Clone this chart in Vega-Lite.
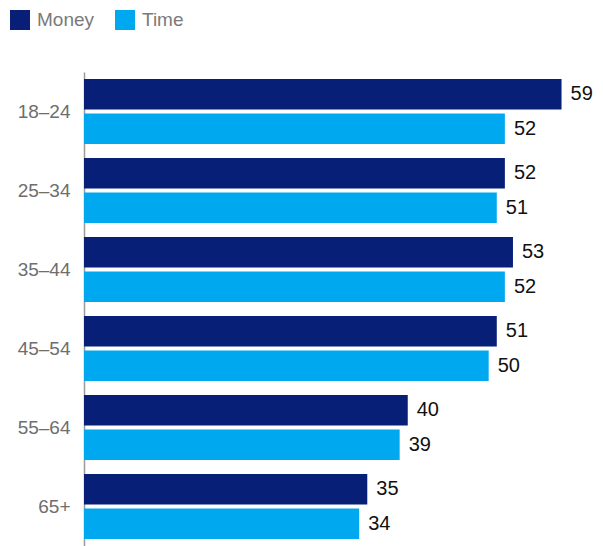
{
  "$schema": "https://vega.github.io/schema/vega-lite/v6.json",
  "autosize": "none",
  "width": 518,
  "height": 474,
  "padding": {"left": 84, "top": 72, "right": 1, "bottom": 0},
  "background": "white",
  "config": {"view": {"stroke": null}, "font": "Liberation Sans"},
  "data": {"values": [
    {"age": "18–24", "type": "Money", "value": 59},
    {"age": "18–24", "type": "Time", "value": 52},
    {"age": "25–34", "type": "Money", "value": 52},
    {"age": "25–34", "type": "Time", "value": 51},
    {"age": "35–44", "type": "Money", "value": 53},
    {"age": "35–44", "type": "Time", "value": 52},
    {"age": "45–54", "type": "Money", "value": 51},
    {"age": "45–54", "type": "Time", "value": 50},
    {"age": "55–64", "type": "Money", "value": 40},
    {"age": "55–64", "type": "Time", "value": 39},
    {"age": "65+", "type": "Money", "value": 35},
    {"age": "65+", "type": "Time", "value": 34}
  ]},
  "encoding": {
    "y": {"field": "age", "type": "nominal", "sort": null,
      "scale": {"paddingInner": 0, "paddingOuter": 0},
      "axis": {"title": null, "ticks": false, "domainColor": "#9a9a9a", "domainWidth": 1.5,
        "labelFontSize": 19, "labelColor": "#6e6e6e", "labelPadding": 14, "labelFont": "Liberation Sans"}},
    "yOffset": {"field": "type", "type": "nominal", "sort": ["Money", "Time"],
      "scale": {"paddingInner": 0.12, "paddingOuter": 0.2}},
    "x": {"field": "value", "type": "quantitative", "scale": {"domain": [0, 64], "nice": false}, "axis": null}
  },
  "layer": [
    {
      "mark": {"type": "bar"},
      "encoding": {
        "color": {"field": "type", "type": "nominal",
          "scale": {"domain": ["Money", "Time"], "range": ["#071f77", "#00a8ef"]},
          "legend": {"title": null, "orient": "none", "legendX": -74, "legendY": -62, "direction": "horizontal",
            "symbolType": "square", "symbolSize": 400, "symbolStrokeWidth": 0, "symbolOpacity": 1,
            "labelFontSize": 19, "labelColor": "#7a7a7a", "labelOffset": 7, "columnPadding": 20,
            "labelFont": "Liberation Sans"}}
      }
    },
    {
      "mark": {"type": "text", "align": "left", "baseline": "middle", "dx": 9, "fontSize": 20, "color": "#111111"},
      "encoding": {"text": {"field": "value", "type": "quantitative"}}
    }
  ]
}
